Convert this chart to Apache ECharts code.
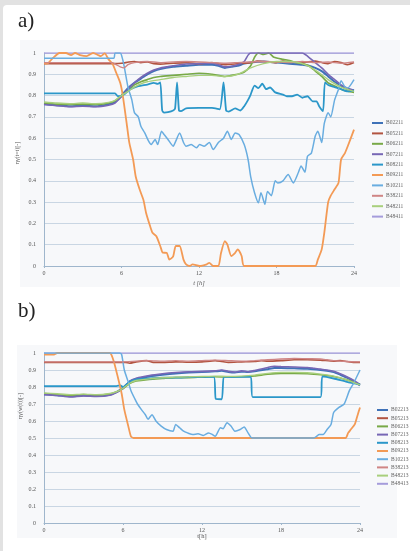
<!DOCTYPE html>
<html>
<head>
<meta charset="utf-8">
<script src="https://cdn.jsdelivr.net/npm/echarts@6/dist/echarts.min.js"></script>
<style>
  html, body { margin: 0; padding: 0; background: #e2e2e2; }
  #card { position: absolute; left: 3px; top: 5px; width: 407px; height: 546px; background: #fff; border-top-left-radius: 4px; }
  #chart { position: absolute; left: 0; top: 0; width: 410px; height: 551px; }
</style>
</head>
<body>
<div id="card"></div>
<div id="chart"></div>
<script>
// panel a) series: [t (h), value]
const aB02211 = [[0,0.76],[1,0.755],[2,0.75],[3,0.752],[4,0.75],[5,0.76],[5.5,0.77],[6,0.8],[6.5,0.835],[7,0.86],[7.5,0.88],[8,0.9],[8.5,0.915],[9,0.925],[10,0.935],[11,0.94],[12,0.945],[13,0.945],[13.5,0.94],[14,0.93],[14.5,0.935],[15,0.94],[15.5,0.95],[16,0.955],[17,0.96],[18,0.955],[19,0.95],[20,0.945],[20.5,0.94],[21,0.93],[21.5,0.915],[22,0.89],[22.5,0.865],[23,0.845],[23.5,0.83],[24,0.825]]
const aB05211 = [[0,0.95],[5.5,0.95],[6,0.952],[7,0.96],[7.5,0.955],[8,0.958],[8.5,0.95],[9,0.948],[10,0.952],[11,0.955],[12,0.95],[13,0.955],[13.5,0.95],[14,0.945],[15,0.95],[16,0.955],[16.5,0.962],[17,0.96],[18,0.955],[18.5,0.962],[19,0.958],[20,0.955],[21,0.962],[21.5,0.955],[22,0.95],[22.5,0.96],[23,0.955],[23.5,0.945],[24,0.955]]
const aB06211 = [[0,0.765],[1,0.76],[2,0.758],[3,0.76],[4,0.758],[5,0.765],[5.5,0.775],[6,0.8],[6.5,0.825],[7,0.85],[7.5,0.865],[8,0.875],[8.5,0.885],[9,0.89],[10,0.895],[11,0.9],[12,0.905],[13,0.9],[14,0.89],[14.5,0.895],[15,0.9],[15.5,0.91],[16,0.94],[16.3,0.98],[16.6,1],[17,0.993],[17.4,1],[17.8,0.98],[18.5,0.97],[19,0.965],[19.5,0.955],[20,0.95],[20.5,0.94],[21,0.915],[21.5,0.89],[22,0.86],[22.5,0.845],[23,0.83],[23.5,0.82],[24,0.815]]
const aB07211 = [[0,0.758],[1,0.752],[2,0.748],[3,0.75],[4,0.748],[5,0.755],[5.5,0.765],[6,0.795],[6.5,0.83],[7,0.86],[7.5,0.885],[8,0.905],[8.5,0.92],[9,0.93],[9.5,0.935],[10,0.94],[11,0.948],[12,0.95],[13,0.952],[13.5,0.945],[14,0.935],[14.5,0.938],[15,0.945],[15.5,0.96],[15.8,0.99],[16,1],[20,1],[20.3,0.99],[20.6,0.975],[21,0.955],[21.5,0.93],[22,0.9],[22.5,0.875],[23,0.85],[23.5,0.835],[24,0.825]]
const aB08211 = [[0,0.81],[5.5,0.81],[5.7,0.798],[6,0.798],[6.3,0.81],[6.7,0.83],[7.3,0.844],[8,0.852],[8.5,0.86],[8.8,0.855],[9,0.862],[9.15,0.73],[9.3,0.72],[9.6,0.722],[10,0.73],[10.15,0.74],[10.3,0.862],[10.45,0.73],[10.6,0.727],[11,0.74],[12,0.742],[13,0.742],[13.6,0.735],[13.9,0.862],[14.1,0.73],[14.3,0.725],[14.8,0.74],[15.2,0.73],[15.5,0.75],[15.8,0.78],[16,0.805],[16.3,0.847],[16.6,0.835],[16.9,0.856],[17.2,0.83],[17.5,0.838],[17.9,0.815],[18.5,0.805],[18.8,0.797],[19.2,0.797],[19.6,0.805],[20,0.79],[20.4,0.797],[20.8,0.773],[21.1,0.773],[21.3,0.75],[21.6,0.727],[21.75,0.862],[22,0.85],[22.5,0.84],[23,0.83],[23.5,0.82],[24,0.825]]
const aB09211 = [[0,0.95],[0.3,0.952],[0.7,0.977],[1.2,1],[1.7,1],[2.1,0.99],[2.4,1],[2.8,0.99],[3.3,0.985],[3.8,1],[4.2,0.99],[4.4,0.985],[4.7,0.998],[5,0.97],[5.3,0.95],[5.6,0.906],[5.9,0.86],[6.1,0.8],[6.4,0.67],[6.6,0.58],[6.9,0.5],[7.1,0.42],[7.4,0.36],[7.7,0.31],[7.9,0.25],[8.2,0.19],[8.4,0.156],[8.7,0.14],[9,0.094],[9.2,0.0625],[9.5,0.062],[9.7,0.03],[10,0.045],[10.2,0.094],[10.5,0.094],[10.8,0.03],[11,0.008],[11.3,0],[11.5,0.008],[12.05,0],[12.6,0.008],[12.8,0.015],[13.1,0],[13.5,0],[13.7,0.06],[14,0.117],[14.2,0.1],[14.5,0.047],[14.8,0.062],[15,0.078],[15.3,0.047],[15.5,0],[21,0],[21.2,0.03],[21.5,0.078],[21.7,0.156],[22,0.3],[22.2,0.33],[22.5,0.36],[22.8,0.39],[23,0.5],[23.3,0.53],[23.5,0.56],[24,0.64]]
const aB10211 = [[0,0.975],[5.4,0.975],[5.5,1],[5.9,1],[6,0.99],[6.2,0.94],[6.5,0.84],[6.8,0.78],[7,0.72],[7.3,0.7],[7.5,0.656],[7.8,0.625],[8.1,0.586],[8.3,0.57],[8.6,0.594],[8.8,0.57],[9.1,0.633],[9.3,0.617],[9.6,0.594],[10,0.5625],[10.2,0.586],[10.5,0.625],[10.8,0.58],[11,0.5625],[11.4,0.57],[11.8,0.555],[12.05,0.57],[12.4,0.5625],[12.8,0.58],[13.1,0.547],[13.5,0.58],[13.9,0.6],[14.2,0.633],[14.5,0.594],[14.8,0.625],[15.1,0.617],[15.5,0.57],[15.8,0.5],[16,0.42],[16.3,0.344],[16.6,0.297],[16.8,0.344],[17.1,0.29],[17.3,0.35],[17.6,0.33],[17.9,0.4],[18.1,0.39],[18.5,0.4],[18.9,0.43],[19.3,0.39],[19.7,0.44],[19.9,0.47],[20.2,0.44],[20.4,0.515],[20.7,0.53],[21,0.61],[21.2,0.633],[21.5,0.58],[21.7,0.67],[22,0.72],[22.2,0.7],[22.5,0.78],[22.8,0.83],[23,0.87],[23.3,0.84],[23.5,0.835],[24,0.875]]
const aB38211 = [[0,0.955],[5.3,0.955],[5.6,0.945],[5.9,0.935],[6.2,0.93],[6.5,0.945],[7,0.955],[8,0.96],[9,0.955],[10,0.958],[11,0.96],[12,0.958],[13,0.955],[14,0.952],[15,0.955],[16,0.958],[17,0.96],[18,0.958],[19,0.955],[20,0.96],[21,0.955],[22,0.958],[23,0.952],[24,0.958]]
const aB48211 = [[0,0.77],[1,0.765],[2,0.762],[3,0.765],[4,0.762],[5,0.768],[5.5,0.778],[6,0.8],[6.5,0.82],[7,0.84],[7.5,0.855],[8,0.865],[9,0.875],[10,0.885],[11,0.89],[12,0.895],[13,0.895],[14,0.89],[15,0.9],[16,0.93],[17,0.95],[18,0.96],[19,0.96],[20,0.95],[21,0.92],[22,0.875],[23,0.84],[24,0.82]]
const aB48411 = [[0,1],[24,1]]

// panel b) series
const bB02213 = [[0,0.758],[1,0.752],[2,0.745],[3,0.75],[4,0.748],[5,0.755],[5.5,0.77],[6,0.795],[6.5,0.83],[7,0.848],[8,0.862],[9,0.872],[10,0.88],[11,0.885],[12,0.888],[13,0.892],[13.5,0.895],[14,0.888],[14.5,0.885],[15,0.89],[15.5,0.888],[16,0.892],[17,0.905],[17.5,0.912],[18,0.912],[19,0.91],[20,0.908],[20.5,0.905],[21,0.9],[22,0.888],[22.5,0.872],[23,0.855],[23.5,0.835],[24,0.81]]
const bB05213 = [[0,0.945],[6.2,0.945],[6.5,0.94],[7,0.948],[7.8,0.955],[8.3,0.945],[9,0.945],[10,0.948],[11,0.946],[12,0.948],[13,0.955],[13.5,0.95],[14,0.945],[15,0.948],[16,0.95],[16.5,0.955],[17,0.952],[18,0.955],[19,0.96],[20,0.96],[21,0.958],[22,0.952],[22.5,0.955],[23,0.95],[23.5,0.945],[24,0.945]]
const bB06213 = [[0,0.762],[1,0.755],[2,0.75],[3,0.755],[4,0.752],[5,0.758],[5.5,0.77],[6,0.79],[6.5,0.82],[7,0.835],[8,0.845],[9,0.85],[10,0.855],[11,0.855],[12,0.858],[13,0.86],[14,0.858],[15,0.86],[16,0.865],[17,0.875],[18,0.88],[19,0.88],[20,0.878],[21,0.872],[22,0.862],[23,0.842],[24,0.815]]
const bB07213 = [[0,0.755],[1,0.75],[2,0.742],[3,0.748],[4,0.745],[5,0.752],[5.5,0.768],[6,0.79],[6.5,0.835],[7,0.852],[8,0.868],[9,0.878],[10,0.885],[11,0.89],[12,0.892],[13,0.895],[13.5,0.9],[14,0.892],[14.5,0.888],[15,0.895],[15.5,0.89],[16,0.897],[17,0.915],[17.5,0.922],[18,0.92],[19,0.918],[20,0.915],[20.5,0.91],[21,0.905],[22,0.893],[22.5,0.878],[23,0.86],[23.5,0.84],[24,0.815]]
const bB08213 = [[0,0.805],[5.5,0.805],[5.8,0.81],[6,0.8],[6.5,0.83],[7,0.845],[8,0.85],[9,0.855],[10,0.855],[11,0.858],[12,0.86],[12.9,0.86],[13.05,0.73],[13.5,0.728],[13.65,0.86],[14,0.858],[15,0.86],[15.7,0.86],[15.85,0.74],[21,0.74],[21.15,0.862],[22,0.85],[23,0.83],[24,0.815]]
const bB09213 = [[0,0.99],[0.7,0.99],[1,1],[5,1],[5.3,0.95],[5.6,0.86],[5.9,0.76],[6.1,0.667],[6.4,0.57],[6.6,0.51],[6.8,0.5],[22.9,0.5],[23.1,0.53],[23.3,0.55],[23.6,0.58],[23.8,0.63],[24,0.68]]
const bB10213 = [[0,1],[5.75,1],[5.9,0.99],[6.1,0.9],[6.4,0.83],[6.6,0.78],[6.9,0.73],[7.1,0.7],[7.4,0.667],[7.7,0.637],[7.9,0.61],[8.2,0.637],[8.5,0.6],[8.9,0.57],[9.3,0.55],[9.8,0.54],[10,0.58],[10.3,0.56],[10.6,0.54],[10.9,0.53],[11.3,0.52],[11.7,0.525],[12.1,0.515],[12.5,0.53],[12.8,0.52],[13,0.51],[13.4,0.56],[13.6,0.555],[13.9,0.59],[14.2,0.57],[14.5,0.54],[14.9,0.55],[15.2,0.565],[15.5,0.53],[15.8,0.5],[20.5,0.5],[20.7,0.51],[20.9,0.52],[21.2,0.52],[21.5,0.55],[21.8,0.58],[22,0.65],[22.4,0.68],[22.8,0.7],[23.2,0.78],[23.5,0.82],[24,0.9]]
const bB38213 = [[0,0.948],[6,0.948],[7,0.952],[8,0.955],[9,0.952],[10,0.955],[11,0.952],[12,0.955],[13,0.958],[14,0.955],[15,0.952],[16,0.955],[17,0.96],[18,0.965],[19,0.968],[20,0.966],[21,0.965],[21.5,0.96],[22,0.955],[23,0.95],[24,0.948]]
const bB48213 = [[0,0.765],[1,0.76],[2,0.755],[3,0.758],[4,0.755],[5,0.762],[5.5,0.772],[6,0.792],[6.5,0.822],[7,0.838],[8,0.848],[9,0.854],[10,0.858],[11,0.86],[12,0.862],[13,0.864],[14,0.862],[15,0.864],[16,0.87],[17,0.88],[18,0.886],[19,0.886],[20,0.884],[21,0.876],[22,0.864],[23,0.842],[24,0.812]]
const bB48413 = [[0,1],[24,1]]

const namesA = ['B02211','B05211','B06211','B07211','B08211','B09211','B10211','B38211','B48211','B48411']
const namesB = ['B02213','B05213','B06213','B07213','B08213','B09213','B10213','B38213','B48213','B48413']
const dataA = [aB02211, aB05211, aB06211, aB07211, aB08211, aB09211, aB10211, aB38211, aB48211, aB48411]
const dataB = [bB02213, bB05213, bB06213, bB07213, bB08213, bB09213, bB10213, bB38213, bB48213, bB48413]
const colors = ['#3f72b8','#b25440','#78a947','#7767b5','#2b97c9','#f39a55','#69ade0','#cf8585','#a8cf7c','#a59cdb']
const widths = [2, 1.6, 1.6, 1.6, 1.8, 1.8, 1.5, 1.4, 1.4, 1.4]
const xTicks = [0, 6, 12, 18, 24]

const serif = '"Liberation Serif", "DejaVu Serif", serif'
const chart = echarts.init(document.getElementById('chart'))

function makeSeries(names, data, idx) {
  // draw the top-listed lines last so lavender/orange sit like the original
  return names.map((n, i) => ({
    name: n,
    type: 'line',
    xAxisIndex: idx,
    yAxisIndex: idx,
    data: data[i],
    symbol: 'none',
    smooth: 0.2,
    lineStyle: { width: widths[i], color: colors[i] },
    itemStyle: { color: colors[i] },
    z: 2 + (i === 9 ? -1 : 0)
  }))
}

function xAxis(idx) {
  return {
    type: 'value', gridIndex: idx, min: 0, max: 24, interval: 6,
    axisLine: { lineStyle: { color: '#9fb6cc', width: 1 } },
    axisTick: { show: true, length: 2, lineStyle: { color: '#9fb6cc' } },
    axisLabel: { fontSize: 6, color: '#555', fontFamily: serif, margin: 4 },
    splitLine: { show: false }
  }
}

function yAxis(idx) {
  return {
    type: 'value', gridIndex: idx, min: 0, max: 1, interval: 0.1,
    axisLine: { show: true, lineStyle: { color: '#9fb6cc', width: 1 } },
    axisTick: { show: false },
    axisLabel: { fontSize: 6, color: '#555', fontFamily: serif, margin: 8,
      formatter: v => (v === 0 || v === 1) ? String(v) : v.toFixed(1) },
    splitLine: { lineStyle: { color: '#c9d6e3', width: 1 } }
  }
}

function legend(names, left, top, gap) {
  return {
    orient: 'vertical', left: left, top: top, data: names,
    icon: 'rect', itemWidth: 11, itemHeight: 2, itemGap: gap,
    textStyle: { fontSize: 5.5, color: '#666', fontFamily: serif, lineHeight: 6, padding: [0, 0, 0, -2] }
  }
}

chart.setOption({
  animation: false,
  grid: [
    { left: 44, top: 53, width: 310, height: 213 },
    { left: 44, top: 353, width: 316, height: 170 }
  ],
  xAxis: [xAxis(0), xAxis(1)],
  yAxis: [yAxis(0), yAxis(1)],
  legend: [legend(namesA, 367, 115, 4.4), legend(namesB, 372, 402, 2.2)],
  graphic: [
    { type: 'rect', shape: { x: 20, y: 40, width: 380, height: 247 }, style: { fill: '#f7f8fa' }, z: -10, silent: true },
    { type: 'rect', shape: { x: 17, y: 345, width: 380, height: 193 }, style: { fill: '#f7f8fa' }, z: -10, silent: true },
    { type: 'text', left: 18, top: 11, style: { text: 'a)', fontSize: 21, fontFamily: serif, fill: '#222' } },
    { type: 'text', left: 18, top: 301, style: { text: 'b)', fontSize: 21, fontFamily: serif, fill: '#222' } },
    { type: 'text', x: 17, y: 153, rotation: Math.PI / 2, style: { text: 'ηγ(t=t)[-]', fontSize: 6, fontFamily: serif, fill: '#555', align: 'center', verticalAlign: 'middle' } },
    { type: 'text', x: 20, y: 406, rotation: Math.PI / 2, style: { text: 'ηγ(w(t))[-]', fontSize: 6, fontFamily: serif, fill: '#555', align: 'center', verticalAlign: 'middle' } },
    { type: 'text', x: 199, y: 283, style: { text: 't [h]', fontSize: 6.5, fontFamily: serif, fontStyle: 'italic', fill: '#555', align: 'center', verticalAlign: 'middle' } },
    { type: 'text', x: 202, y: 536, style: { text: 't[h]', fontSize: 6.5, fontFamily: serif, fill: '#555', align: 'center', verticalAlign: 'middle' } }
  ],
  series: makeSeries(namesA, dataA, 0).concat(makeSeries(namesB, dataB, 1))
})
</script>
</body>
</html>
